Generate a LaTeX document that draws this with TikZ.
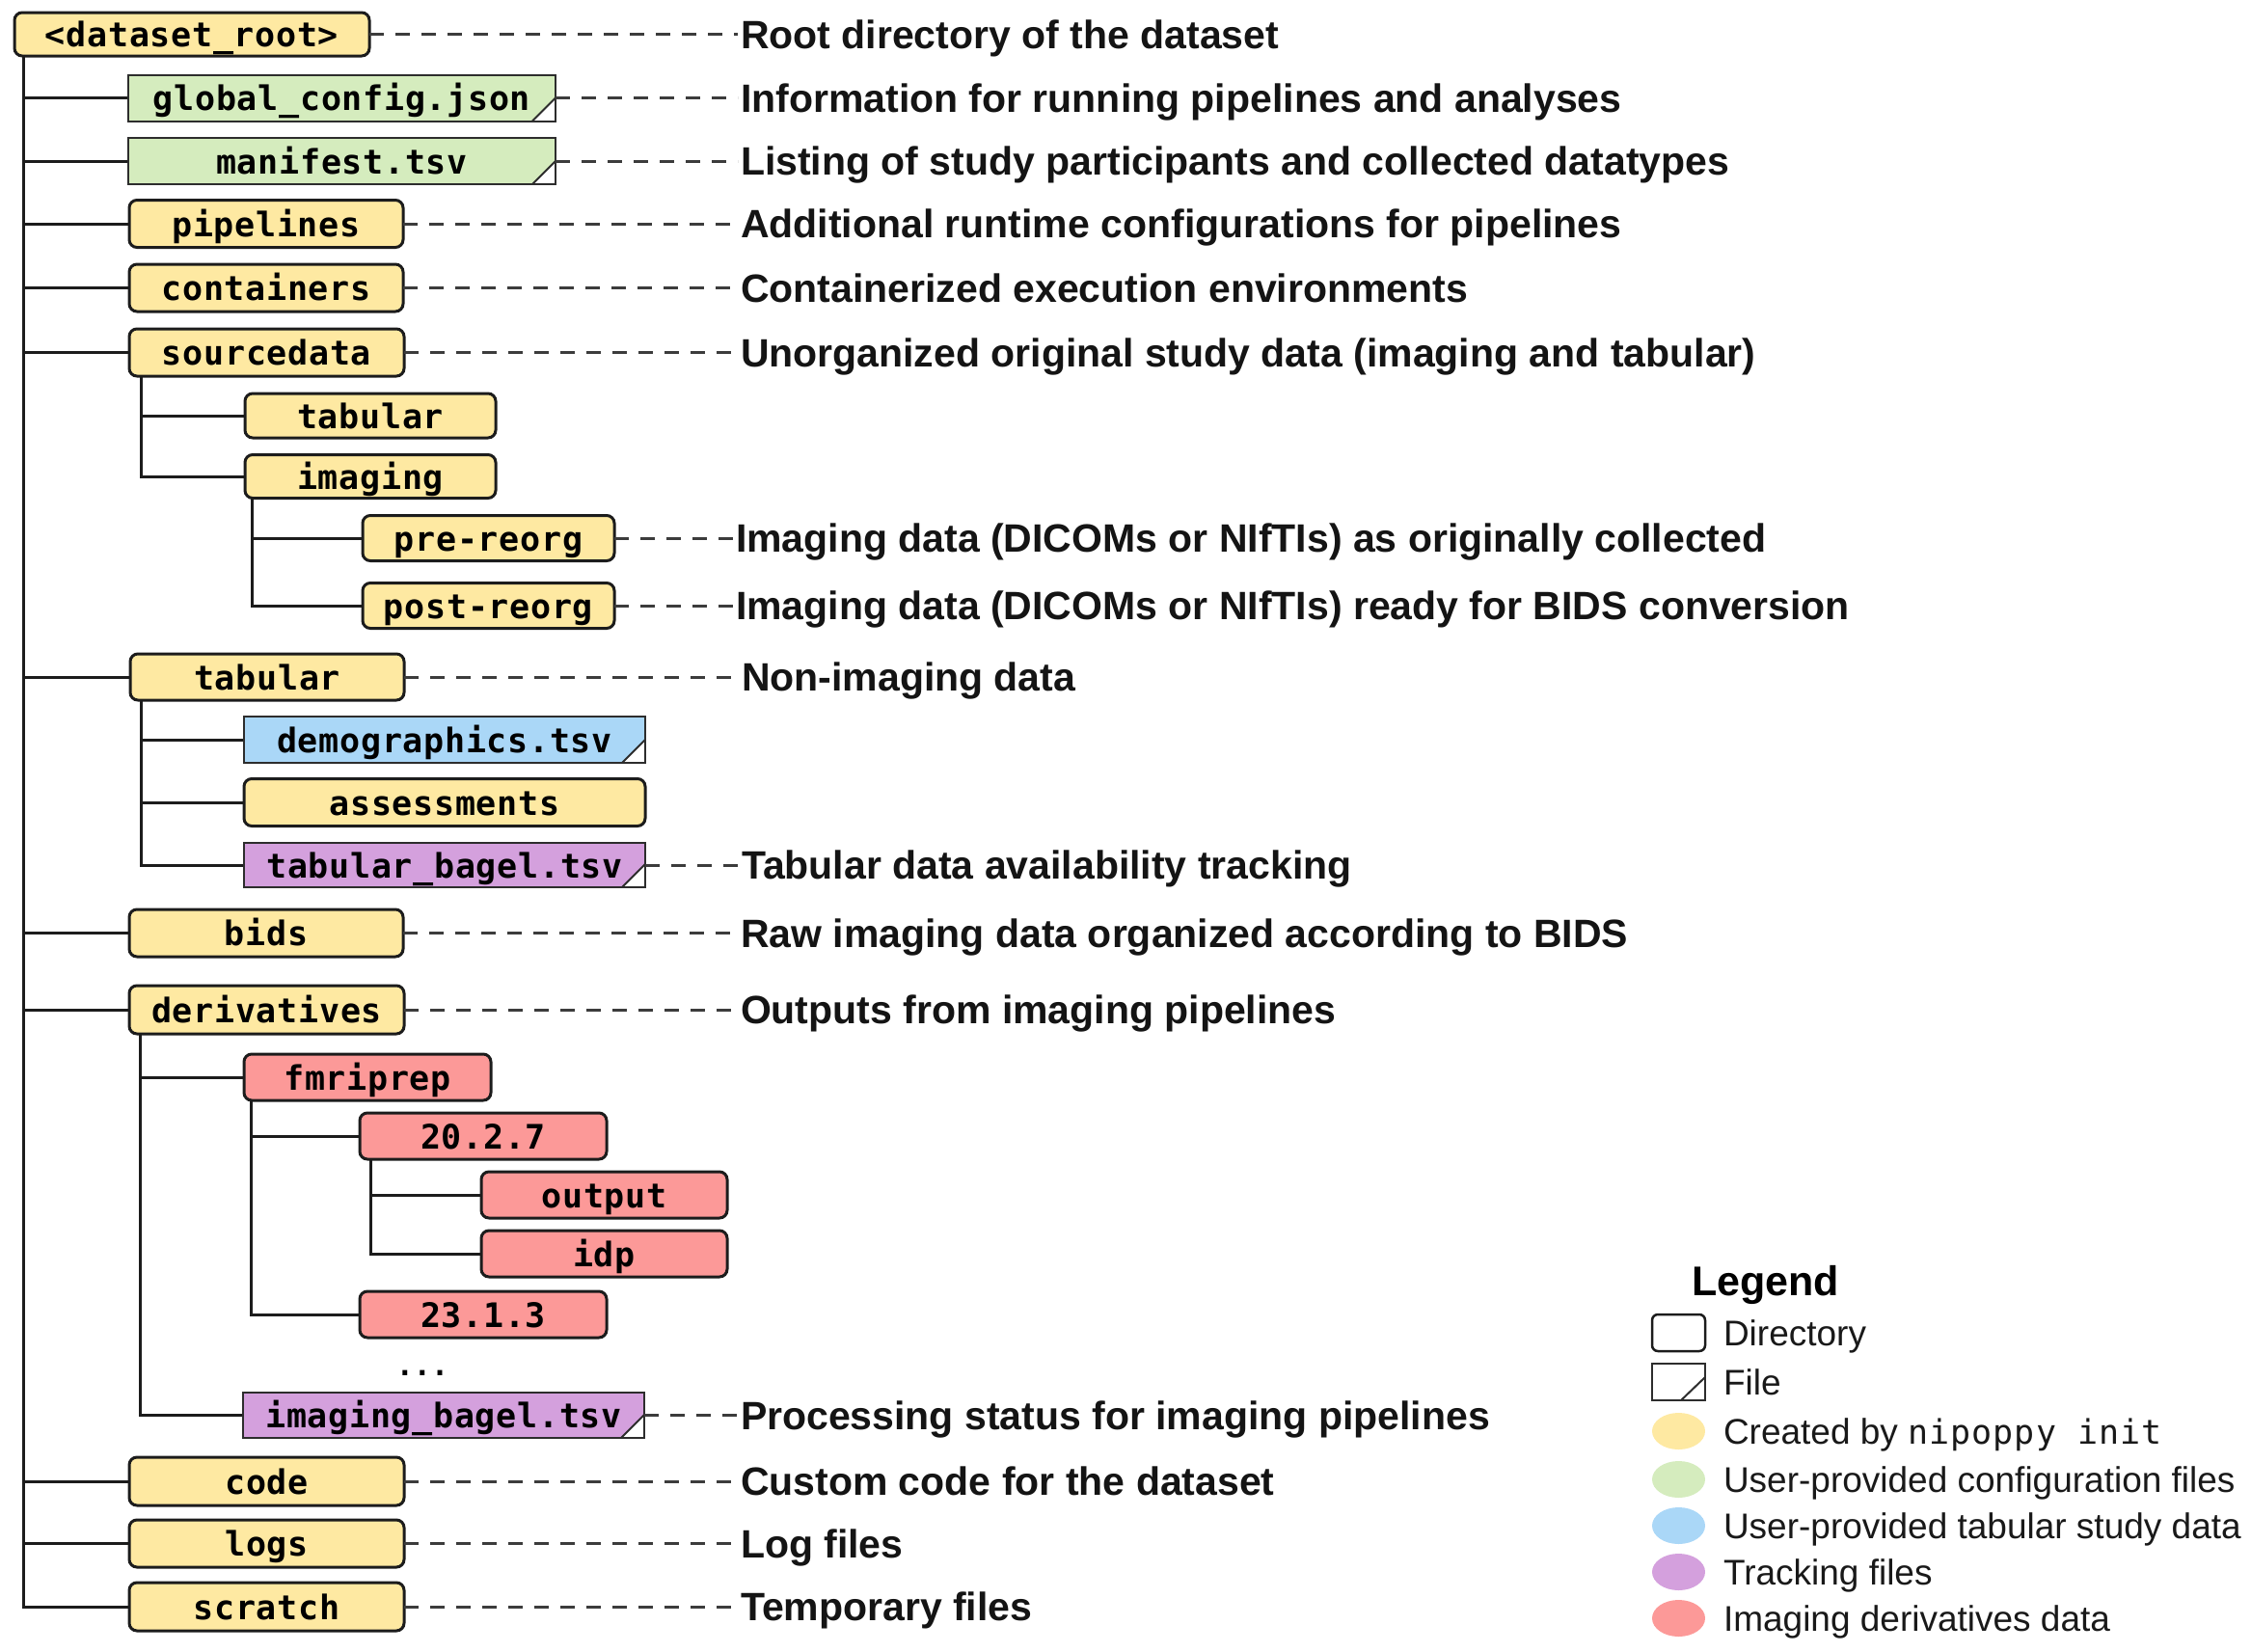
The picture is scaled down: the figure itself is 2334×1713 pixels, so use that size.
\documentclass[tikz,border=0pt]{standalone}
\usepackage{fontspec}
\setmainfont{Liberation Sans}
\newfontfamily\monofnt[LetterSpace=2]{DejaVu Sans Mono}
\newfontfamily\monolegend[LetterSpace=3]{DejaVu Sans Mono}
\newfontfamily\monoplain{DejaVu Sans Mono}
\usetikzlibrary{backgrounds,shapes.geometric}
\definecolor{ycol}{RGB}{254,233,162}
\definecolor{gcol}{RGB}{213,236,190}
\definecolor{bcol}{RGB}{170,215,247}
\definecolor{pcol}{RGB}{212,160,221}
\definecolor{rcol}{RGB}{252,153,152}
\definecolor{edgec}{RGB}{28,28,28}
\definecolor{fedge}{RGB}{45,45,45}
\definecolor{dashc}{RGB}{60,60,60}
\begin{document}
\begin{tikzpicture}[x=1pt,y=-1pt,
  every node/.style={inner sep=0pt, outer sep=0pt},
  dirbox/.style={draw=edgec, line width=3pt, rounded corners=8pt, fill=#1,
    font={\monofnt\bfseries\fontsize{35}{40}\selectfont},
    text height=31pt, text depth=5pt, anchor=west},
  filebox/.style={draw=fedge, line width=2pt, fill=#1,
    font={\monofnt\bfseries\fontsize{35}{40}\selectfont},
    text height=31pt, text depth=5pt, anchor=west},
  lab/.style={font={\bfseries\fontsize{41}{48}\selectfont}, text height=35pt,
    text depth=6pt, inner xsep=3pt, anchor=west, text=black!92},
  legtext/.style={font={\fontsize{37}{44}\selectfont}, text height=32pt,
    text depth=6pt, anchor=west, text=black!90},
  tree/.style={draw=edgec, line width=3pt},
  dashline/.style={draw=dashc, line width=3pt, dash pattern=on 15pt off 12pt},
  fileedge/.style={draw=fedge, line width=2pt},
  legdot/.style={ellipse, fill=#1, minimum width=55pt, minimum height=38pt}
]
\useasboundingbox (0,0) rectangle (2334,1713);

% ---- tree nodes
\node[dirbox=ycol, minimum width=368pt, minimum height=45pt] (root) at (15,35.5) {<dataset\_root>};
\node[filebox=gcol, minimum width=443pt, minimum height=48pt] (gc) at (133,101.5) {global\_config.json};
\node[filebox=gcol, minimum width=443pt, minimum height=48pt] (man) at (133,167) {manifest.tsv};
\node[dirbox=ycol, minimum width=284pt, minimum height=49pt] (pipe) at (134,232) {pipelines};
\node[dirbox=ycol, minimum width=284pt, minimum height=49pt] (cont) at (134,298.5) {containers};
\node[dirbox=ycol, minimum width=285pt, minimum height=49pt] (src) at (134,365.5) {sourcedata};
\node[dirbox=ycol, minimum width=260pt, minimum height=46pt] (stab) at (254,431) {tabular};
\node[dirbox=ycol, minimum width=260pt, minimum height=45pt] (simg) at (254,494) {imaging};
\node[dirbox=ycol, minimum width=261pt, minimum height=47pt] (pre) at (376,558) {pre-reorg};
\node[dirbox=ycol, minimum width=261pt, minimum height=47pt] (post) at (376,628) {post-reorg};
\node[dirbox=ycol, minimum width=284pt, minimum height=48pt] (tab) at (135,702) {tabular};
\node[filebox=bcol, minimum width=416pt, minimum height=48pt] (demo) at (253,767) {demographics.tsv};
\node[dirbox=ycol, minimum width=416pt, minimum height=49pt] (assess) at (253,832) {assessments};
\node[filebox=pcol, minimum width=416pt, minimum height=46pt] (tbag) at (253,897) {tabular\_bagel.tsv};
\node[dirbox=ycol, minimum width=284pt, minimum height=49pt] (bids) at (134,967.5) {bids};
\node[dirbox=ycol, minimum width=285pt, minimum height=50pt] (deriv) at (134,1047) {derivatives};
\node[dirbox=rcol, minimum width=256pt, minimum height=48pt] (fmri) at (253,1117) {fmriprep};
\node[dirbox=rcol, minimum width=256pt, minimum height=48pt] (va) at (373,1178) {20.2.7};
\node[dirbox=rcol, minimum width=255pt, minimum height=48pt] (out) at (499,1239) {output};
\node[dirbox=rcol, minimum width=255pt, minimum height=48pt] (idp) at (499,1300) {idp};
\node[dirbox=rcol, minimum width=256pt, minimum height=48pt] (vb) at (373,1363) {23.1.3};
\node[font={\monoplain\bfseries\fontsize{30}{36}\selectfont}, anchor=base] (dots) at (438,1426) {...};
\node[filebox=pcol, minimum width=416pt, minimum height=47pt] (ibag) at (252,1467.5) {imaging\_bagel.tsv};
\node[dirbox=ycol, minimum width=285pt, minimum height=50pt] (code) at (134,1536) {code};
\node[dirbox=ycol, minimum width=285pt, minimum height=49pt] (logs) at (134,1600.5) {logs};
\node[dirbox=ycol, minimum width=285pt, minimum height=50pt] (scratch) at (134,1666) {scratch};

% file corner folds
\foreach \n in {gc,man,demo,tbag,ibag} {
  \fill[white] ([xshift=-24pt]\n.south east) -- (\n.south east) -- ([yshift=24pt]\n.south east) -- cycle;
  \draw[fileedge] ([xshift=-24pt]\n.south east) -- ([yshift=24pt]\n.south east);
  \draw[fileedge] (\n.south west) rectangle (\n.north east);
}

% ---- tree connectors
\begin{pgfonlayer}{background}
\foreach \c in {gc,man,pipe,cont,src,tab,bids,deriv,code,logs,scratch}
  \draw[tree] ([xshift=9.5pt]root.south west) |- (\c.west);
\foreach \c in {stab,simg}
  \draw[tree] ([xshift=12pt]src.south west) |- (\c.west);
\foreach \c in {pre,post}
  \draw[tree] ([xshift=7pt]simg.south west) |- (\c.west);
\foreach \c in {demo,assess,tbag}
  \draw[tree] ([xshift=11pt]tab.south west) |- (\c.west);
\foreach \c in {fmri,ibag}
  \draw[tree] ([xshift=11pt]deriv.south west) |- (\c.west);
\foreach \c in {va,vb}
  \draw[tree] ([xshift=7pt]fmri.south west) |- (\c.west);
\foreach \c in {out,idp}
  \draw[tree] ([xshift=11pt]va.south west) |- (\c.west);
\end{pgfonlayer}

% ---- descriptions
\node[lab] (lroot) at (765,35.5) {Root directory of the dataset};
\node[lab] (lgc) at (765,101.5) {Information for running pipelines and analyses};
\node[lab] (lman) at (765,167) {Listing of study participants and collected datatypes};
\node[lab] (lpipe) at (765,232) {Additional runtime configurations for pipelines};
\node[lab] (lcont) at (765,298.5) {Containerized execution environments};
\node[lab] (lsrc) at (765,365.5) {Unorganized original study data (imaging and tabular)};
\node[lab] (lpre) at (760,558) {Imaging data (DICOMs or NIfTIs) as originally collected};
\node[lab] (lpost) at (760,628) {Imaging data (DICOMs or NIfTIs) ready for BIDS conversion};
\node[lab] (ltab) at (766,702) {Non-imaging data};
\node[lab] (ltbag) at (766,897) {Tabular data availability tracking};
\node[lab] (lbids) at (765,967.5) {Raw imaging data organized according to BIDS};
\node[lab] (lderiv) at (765,1047) {Outputs from imaging pipelines};
\node[lab] (libag) at (765,1467.5) {Processing status for imaging pipelines};
\node[lab] (lcode) at (765,1536) {Custom code for the dataset};
\node[lab] (llogs) at (765,1600.5) {Log files};
\node[lab] (lscratch) at (765,1666) {Temporary files};

\foreach \a/\b in {root/lroot,gc/lgc,man/lman,pipe/lpipe,cont/lcont,src/lsrc,pre/lpre,post/lpost,tab/ltab,tbag/ltbag,bids/lbids,deriv/lderiv,ibag/libag,code/lcode,logs/llogs,scratch/lscratch}
  \draw[dashline] (\a.east) -- (\b.west);

% ---- legend
\node[font={\bfseries\fontsize{43}{50}\selectfont}, text height=34pt, text depth=4pt, anchor=west] (legtitle) at (1754,1328) {Legend};
\node[draw=edgec, line width=2.5pt, rounded corners=6pt, minimum width=55pt, minimum height=38pt] (ldir) at (1740.5,1382) {};
\node[draw=fedge, line width=2pt, minimum width=55pt, minimum height=38pt] (lfile) at (1740.5,1433) {};
\draw[fileedge] ([xshift=-25pt]lfile.south east) -- ([yshift=24pt]lfile.south east);
\node[legdot=ycol] (dy) at (1740.5,1484) {};
\node[legdot=gcol] (dg) at (1740.5,1534) {};
\node[legdot=bcol] (db) at (1740.5,1582) {};
\node[legdot=pcol] (dp) at (1740.5,1630) {};
\node[legdot=rcol] (dr) at (1740.5,1678) {};
\node[legtext] (t1) at (1787,1382) {Directory};
\node[legtext] (t2) at (1787,1433) {File};
\node[legtext] (t3) at (1787,1484) {Created by {\monolegend\fontsize{35}{40}\selectfont nipoppy init}};
\node[legtext] (t4) at (1787,1534) {User-provided configuration files};
\node[legtext] (t5) at (1787,1582) {User-provided tabular study data};
\node[legtext] (t6) at (1787,1630) {Tracking files};
\node[legtext] (t7) at (1787,1678) {Imaging derivatives data};
\end{tikzpicture}
\end{document}
